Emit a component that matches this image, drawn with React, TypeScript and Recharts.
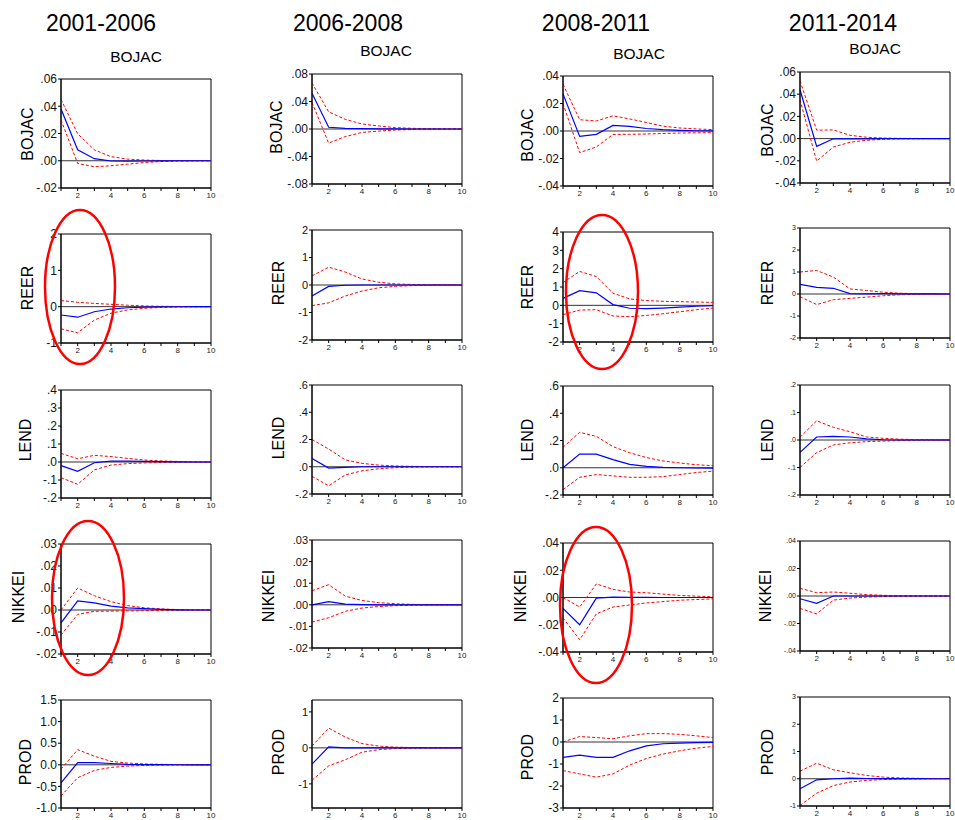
import React from 'react';
import { LineChart, Line, XAxis, YAxis, ReferenceLine, ReferenceArea } from 'recharts';

const periods = [1, 2, 3, 4, 5, 6, 7, 8, 9, 10];
const periodTicks = [1, 2, 3, 4, 5, 6, 7, 8, 9, 10];
const columnTitles = ['2001-2006', '2006-2008', '2008-2011', '2011-2014'];
const variables = ['BOJAC', 'REER', 'LEND', 'NIKKEI', 'PROD'];

// BOJAC responses
const bojacMid0106 = [0.038, 0.008, 0.0015, -0.0002, -0.0003, -0.0002, -0.0001, 0, 0, 0];
const bojacHi0106 = [0.045, 0.0198, 0.008, 0.003, 0.0012, 0.0005, 0.0002, 0.0001, 0, 0];
const bojacLo0106 = [0.03, -0.002, -0.0044, -0.0037, -0.0025, -0.0013, -0.0006, -0.0003, -0.0001, 0];
const bojacMid0608 = [0.052, 0.0025, 0.001, 0.0005, 0.0002, 0.0001, 0, 0, 0, 0];
const bojacHi0608 = [0.067, 0.025, 0.014, 0.0073, 0.0044, 0.002, 0.001, 0.0005, 0.0003, 0.0001];
const bojacLo0608 = [0.0385, -0.0205, -0.011, -0.005, -0.003, -0.0015, -0.0008, -0.0004, -0.0002, -0.0001];
const bojacMid0811 = [0.027, -0.0039, -0.0024, 0.0041, 0.0033, 0.0018, 0.001, 0.0005, 0.0002, 0.0001];
const bojacHi0811 = [0.034, 0.0082, 0.0073, 0.011, 0.0088, 0.0062, 0.0035, 0.0022, 0.0015, 0.001];
const bojacLo0811 = [0.02, -0.0157, -0.0116, -0.0025, -0.0024, -0.0022, -0.0018, -0.0015, -0.0013, -0.0012];
const bojacMid1114 = [0.044, -0.007, -0.0002, -0.0003, -0.0002, -0.0001, 0, 0, 0, 0];
const bojacHi1114 = [0.052, 0.0076, 0.0078, 0.003, 0.0012, 0.0005, 0.0002, 0.0001, 0, 0];
const bojacLo1114 = [0.035, -0.0203, -0.0076, -0.0033, -0.0015, -0.0006, -0.0002, -0.0001, 0, 0];

// REER responses
const reerMid0106 = [-0.23, -0.29, -0.14, -0.065, -0.03, -0.012, -0.005, -0.002, -0.001, 0];
const reerHi0106 = [0.17, 0.12, 0.09, 0.065, 0.04, 0.02, 0.01, 0.005, 0.002, 0.001];
const reerLo0106 = [-0.61, -0.72, -0.37, -0.18, -0.09, -0.045, -0.02, -0.01, -0.005, -0.002];
const reerMid0608 = [-0.4, -0.05, -0.01, 0, 0, 0, 0, 0, 0, 0];
const reerHi0608 = [0.33, 0.65, 0.47, 0.22, 0.1, 0.04, 0.02, 0.01, 0.005, 0.002];
const reerLo0608 = [-0.75, -0.65, -0.4, -0.22, -0.1, -0.05, -0.02, -0.01, -0.005, -0.002];
const reerMid0811 = [0.38, 0.8, 0.68, 0.04, -0.16, -0.18, -0.15, -0.1, -0.05, -0.02];
const reerHi0811 = [1.24, 1.85, 1.57, 0.66, 0.35, 0.26, 0.22, 0.2, 0.18, 0.16];
const reerLo0811 = [-0.51, -0.26, -0.24, -0.58, -0.62, -0.55, -0.46, -0.35, -0.24, -0.15];
const reerMid1114 = [0.44, 0.3, 0.26, 0.02, 0.01, 0.015, 0.01, 0.005, 0.002, 0.001];
const reerHi1114 = [1.0, 1.07, 0.77, 0.23, 0.16, 0.08, 0.035, 0.015, 0.007, 0.003];
const reerLo1114 = [-0.12, -0.48, -0.26, -0.2, -0.14, -0.08, -0.035, -0.015, -0.007, -0.003];

// LEND responses
const lendMid0106 = [-0.02, -0.052, -0.004, 0.005, 0.005, 0.004, 0.002, 0.001, 0, 0];
const lendHi0106 = [0.048, 0.018, 0.037, 0.03, 0.02, 0.011, 0.006, 0.003, 0.001, 0];
const lendLo0106 = [-0.087, -0.124, -0.044, -0.017, -0.009, -0.005, -0.003, -0.001, 0, 0];
const lendMid0608 = [0.06, -0.01, -0.005, 0, 0, 0, 0, 0, 0, 0];
const lendHi0608 = [0.2, 0.13, 0.05, 0.025, 0.012, 0.006, 0.003, 0.001, 0, 0];
const lendLo0608 = [-0.07, -0.14, -0.06, -0.03, -0.015, -0.007, -0.003, -0.001, 0, 0];
const lendMid0811 = [0.0, 0.1, 0.1, 0.06, 0.025, 0.01, 0.003, 0, -0.002, -0.003];
const lendHi0811 = [0.15, 0.26, 0.23, 0.155, 0.11, 0.075, 0.05, 0.035, 0.022, 0.015];
const lendLo0811 = [-0.16, -0.07, -0.05, -0.06, -0.07, -0.07, -0.065, -0.05, -0.035, -0.025];
const lendMid1114 = [-0.045, 0.011, 0.013, 0.011, 0.004, 0.001, 0, 0, 0, 0];
const lendHi1114 = [0.01, 0.07, 0.046, 0.03, 0.011, 0.006, 0.003, 0.0015, 0.0005, 0];
const lendLo1114 = [-0.1, -0.046, -0.018, -0.01, -0.006, -0.004, -0.002, -0.001, -0.0005, 0];

// NIKKEI responses
const nikkeiMid0106 = [-0.0059, 0.0041, 0.0032, 0.0018, 0.001, 0.0006, 0.0003, 0.0001, 0, 0];
const nikkeiHi0106 = [0.0, 0.01, 0.0065, 0.0038, 0.002, 0.001, 0.0005, 0.0002, 0.0001, 0];
const nikkeiLo0106 = [-0.0114, -0.002, -0.0006, -0.0005, -0.0004, -0.0003, -0.0002, -0.0001, 0, 0];
const nikkeiMid0608 = [0.0, 0.0015, 0.0003, 0.0001, 0, 0, 0, 0, 0, 0];
const nikkeiHi0608 = [0.0065, 0.0093, 0.004, 0.002, 0.001, 0.0005, 0.0002, 0.0001, 0, 0];
const nikkeiLo0608 = [-0.008, -0.006, -0.003, -0.0015, -0.0008, -0.0004, -0.0002, -0.0001, 0, 0];
const nikkeiMid0811 = [-0.008, -0.02, -0.0005, 0.0003, 0.0002, 0.0001, 0, 0, 0, 0];
const nikkeiHi0811 = [0.0, -0.007, 0.01, 0.006, 0.004, 0.0035, 0.0025, 0.0015, 0.001, 0.0005];
const nikkeiLo0811 = [-0.015, -0.031, -0.012, -0.007, -0.0055, -0.004, -0.003, -0.002, -0.0015, -0.001];
const nikkeiMid1114 = [-0.002, -0.0053, 0, 0, 0, 0, 0, 0, 0, 0];
const nikkeiHi1114 = [0.0056, 0.0024, 0.0029, 0.002, 0.001, 0.0005, 0.0002, 0.0001, 0, 0];
const nikkeiLo1114 = [-0.009, -0.013, -0.003, -0.0015, -0.0008, -0.0004, -0.0002, -0.0001, 0, 0];

// PROD responses
const prodMid0106 = [-0.42, 0.05, 0.05, 0.03, 0.01, 0.005, 0.002, 0.001, 0, 0];
const prodHi0106 = [-0.1, 0.35, 0.2, 0.08, 0.04, 0.02, 0.01, 0.005, 0.002, 0];
const prodLo0106 = [-0.72, -0.3, -0.13, -0.06, -0.03, -0.015, -0.007, -0.003, -0.001, 0];
const prodMid0608 = [-0.45, 0.03, 0.0, 0.0, 0, 0, 0, 0, 0, 0];
const prodHi0608 = [0.05, 0.55, 0.3, 0.12, 0.05, 0.02, 0.01, 0.005, 0.002, 0];
const prodLo0608 = [-0.9, -0.5, -0.33, -0.12, -0.05, -0.02, -0.01, -0.005, -0.002, 0];
const prodMid0811 = [-0.7, -0.6, -0.7, -0.7, -0.4, -0.18, -0.08, -0.05, -0.03, -0.02];
const prodHi0811 = [0.0, 0.25, 0.2, 0.15, 0.28, 0.38, 0.38, 0.35, 0.28, 0.2];
const prodLo0811 = [-1.3, -1.45, -1.6, -1.45, -1.05, -0.75, -0.55, -0.4, -0.28, -0.2];
const prodMid1114 = [-0.37, -0.04, 0.0, 0.02, 0.01, 0.005, 0.002, 0.001, 0, 0];
const prodHi1114 = [0.28, 0.57, 0.33, 0.22, 0.12, 0.06, 0.03, 0.015, 0.007, 0.003];
const prodLo1114 = [-0.98, -0.53, -0.25, -0.12, -0.06, -0.03, -0.015, -0.007, -0.003, -0.001];

// y tick values
const ticksBojac0106 = [-0.02, 0, 0.02, 0.04, 0.06];
const ticksBojac0608 = [-0.08, -0.04, 0, 0.04, 0.08];
const ticksBojac0811 = [-0.04, -0.02, 0, 0.02, 0.04];
const ticksBojac1114 = [-0.04, -0.02, 0, 0.02, 0.04, 0.06];
const ticksReer0106 = [-1, 0, 1, 2];
const ticksReer0608 = [-2, -1, 0, 1, 2];
const ticksReer0811 = [-2, -1, 0, 1, 2, 3, 4];
const ticksReer1114 = [-2, -1, 0, 1, 2, 3];
const ticksLend0106 = [-0.2, -0.1, 0, 0.1, 0.2, 0.3, 0.4];
const ticksLend0608 = [-0.2, 0, 0.2, 0.4, 0.6];
const ticksLend0811 = [-0.2, 0, 0.2, 0.4, 0.6];
const ticksLend1114 = [-0.2, -0.1, 0, 0.1, 0.2];
const ticksNikkei0106 = [-0.02, -0.01, 0, 0.01, 0.02, 0.03];
const ticksNikkei0608 = [-0.02, -0.01, 0, 0.01, 0.02, 0.03];
const ticksNikkei0811 = [-0.04, -0.02, 0, 0.02, 0.04];
const ticksNikkei1114 = [-0.04, -0.02, 0, 0.02, 0.04];
const ticksProd0106 = [-1, -0.5, 0, 0.5, 1, 1.5];
const ticksProd0608 = [-1, 0, 1];
const ticksProd0811 = [-3, -2, -1, 0, 1, 2];
const ticksProd1114 = [-1, 0, 1, 2, 3];

type Fmt = 'dot2' | 'dot1' | 'fix1' | 'int';

type PanelCfg = {
  row: number;
  col: number;
  mid: number[];
  hi: number[];
  lo: number[];
  ticks: number[];
  domain?: [number, number];
  fmt: Fmt;
  tickFont: number;
};

const panels: PanelCfg[] = [
  { row: 0, col: 0, mid: bojacMid0106, hi: bojacHi0106, lo: bojacLo0106, ticks: ticksBojac0106, fmt: 'dot2', tickFont: 12 },
  { row: 0, col: 1, mid: bojacMid0608, hi: bojacHi0608, lo: bojacLo0608, ticks: ticksBojac0608, fmt: 'dot2', tickFont: 12 },
  { row: 0, col: 2, mid: bojacMid0811, hi: bojacHi0811, lo: bojacLo0811, ticks: ticksBojac0811, fmt: 'dot2', tickFont: 12 },
  { row: 0, col: 3, mid: bojacMid1114, hi: bojacHi1114, lo: bojacLo1114, ticks: ticksBojac1114, fmt: 'dot2', tickFont: 12 },
  { row: 1, col: 0, mid: reerMid0106, hi: reerHi0106, lo: reerLo0106, ticks: ticksReer0106, fmt: 'int', tickFont: 12 },
  { row: 1, col: 1, mid: reerMid0608, hi: reerHi0608, lo: reerLo0608, ticks: ticksReer0608, fmt: 'int', tickFont: 11 },
  { row: 1, col: 2, mid: reerMid0811, hi: reerHi0811, lo: reerLo0811, ticks: ticksReer0811, fmt: 'int', tickFont: 12 },
  { row: 1, col: 3, mid: reerMid1114, hi: reerHi1114, lo: reerLo1114, ticks: ticksReer1114, fmt: 'int', tickFont: 7 },
  { row: 2, col: 0, mid: lendMid0106, hi: lendHi0106, lo: lendLo0106, ticks: ticksLend0106, fmt: 'dot1', tickFont: 12 },
  { row: 2, col: 1, mid: lendMid0608, hi: lendHi0608, lo: lendLo0608, ticks: ticksLend0608, fmt: 'dot1', tickFont: 11 },
  { row: 2, col: 2, mid: lendMid0811, hi: lendHi0811, lo: lendLo0811, ticks: ticksLend0811, fmt: 'dot1', tickFont: 12 },
  { row: 2, col: 3, mid: lendMid1114, hi: lendHi1114, lo: lendLo1114, ticks: ticksLend1114, fmt: 'dot1', tickFont: 7 },
  { row: 3, col: 0, mid: nikkeiMid0106, hi: nikkeiHi0106, lo: nikkeiLo0106, ticks: ticksNikkei0106, fmt: 'dot2', tickFont: 12 },
  { row: 3, col: 1, mid: nikkeiMid0608, hi: nikkeiHi0608, lo: nikkeiLo0608, ticks: ticksNikkei0608, fmt: 'dot2', tickFont: 11 },
  { row: 3, col: 2, mid: nikkeiMid0811, hi: nikkeiHi0811, lo: nikkeiLo0811, ticks: ticksNikkei0811, fmt: 'dot2', tickFont: 12 },
  { row: 3, col: 3, mid: nikkeiMid1114, hi: nikkeiHi1114, lo: nikkeiLo1114, ticks: ticksNikkei1114, fmt: 'dot2', tickFont: 7 },
  { row: 4, col: 0, mid: prodMid0106, hi: prodHi0106, lo: prodLo0106, ticks: ticksProd0106, fmt: 'fix1', tickFont: 12 },
  { row: 4, col: 1, mid: prodMid0608, hi: prodHi0608, lo: prodLo0608, ticks: ticksProd0608, domain: [-1.67, 1.33], fmt: 'int', tickFont: 11 },
  { row: 4, col: 2, mid: prodMid0811, hi: prodHi0811, lo: prodLo0811, ticks: ticksProd0811, fmt: 'int', tickFont: 12 },
  { row: 4, col: 3, mid: prodMid1114, hi: prodHi1114, lo: prodLo1114, ticks: ticksProd1114, fmt: 'int', tickFont: 7 },
];

// plot-area placement in page pixels
const colLeft = [61, 312, 563, 800];
const plotW = 150;
const rowTop = [
  [79, 74, 76, 72],
  [234, 230, 232, 228],
  [390, 385, 386, 385],
  [544, 540, 543, 541],
  [700, 700, 698, 697],
];
const rowH = [
  [109, 110, 110, 111],
  [109, 110, 110, 110],
  [108, 109, 109, 110],
  [110, 108, 109, 110],
  [108, 108, 110, 109],
];
const yAxisW = 40;
const padTop = 6;
const xAxisH = 16;

const fmtTick = (v: number, f: Fmt) => {
  if (f === 'int') return String(v);
  if (f === 'fix1') return v.toFixed(1);
  const d = f === 'dot2' ? 2 : 1;
  const s = Math.abs(v).toFixed(d).replace(/^0/, '');
  return (v < 0 ? '-' : '') + s;
};

const Panel: React.FC<{ cfg: PanelCfg }> = ({ cfg }) => {
  const top = rowTop[cfg.row][cfg.col];
  const h = rowH[cfg.row][cfg.col];
  const left = colLeft[cfg.col];
  const domain: [number, number] = cfg.domain ?? [cfg.ticks[0], cfg.ticks[cfg.ticks.length - 1]];
  const data = periods.map((p, i) => ({ p, mid: cfg.mid[i], hi: cfg.hi[i], lo: cfg.lo[i] }));

  return (
    <div style={{ position: 'absolute', left: left - yAxisW, top: top - padTop }}>
      <LineChart
        width={yAxisW + plotW + 8}
        height={padTop + h + xAxisH}
        data={data}
        margin={{ top: padTop, right: 8, left: 0, bottom: 0 }}
      >
        <XAxis
          dataKey="p"
          type="number"
          domain={[1, 10]}
          ticks={periodTicks}
          tickFormatter={(v: number) => (v % 2 === 0 ? String(v) : '')}
          interval={0}
          height={xAxisH}
          tickSize={3}
          tickMargin={1}
          tick={{ fontSize: 8, fill: '#222' }}
          stroke="#000"
        />
        <YAxis
          type="number"
          domain={domain}
          ticks={cfg.ticks}
          allowDataOverflow
          interval={0}
          width={yAxisW}
          tickSize={3}
          tickMargin={1}
          tickFormatter={(v: number) => fmtTick(v, cfg.fmt)}
          tick={{ fontSize: cfg.tickFont, fill: '#111' }}
          stroke="#000"
        />
        <ReferenceArea
          x1={1}
          x2={10}
          y1={domain[0]}
          y2={domain[1]}
          fill="none"
          fillOpacity={0}
          stroke="#000"
          strokeWidth={1}
          ifOverflow="visible"
        />
        <ReferenceLine y={0} stroke="#333" strokeWidth={1} />
        <Line dataKey="hi" type="linear" stroke="#ff0000" strokeWidth={1} strokeDasharray="3 2" dot={false} isAnimationActive={false} />
        <Line dataKey="lo" type="linear" stroke="#ff0000" strokeWidth={1} strokeDasharray="3 2" dot={false} isAnimationActive={false} />
        <Line dataKey="mid" type="linear" stroke="#0000ff" strokeWidth={1.2} dot={false} isAnimationActive={false} />
      </LineChart>
    </div>
  );
};

// text/annotation placement
const titleX = [101, 348, 596, 843];
const headX = [136, 386, 639, 875];
const headY = [62, 56, 59, 54];
const sideX = [
  [27, 27, 25, 18, 25],
  [276, 278, 278, 268, 278],
  [527, 527, 527, 520, 527],
  [767, 767, 767, 765, 767],
];
const sideY = [
  [134, 288, 440, 597, 762],
  [127, 283, 438, 596, 752],
  [135, 287, 440, 596, 757],
  [130, 283, 440, 596, 752],
];
const ellipses = [
  { cx: 80, cy: 287, rx: 35, ry: 77 },
  { cx: 602, cy: 292, rx: 36, ry: 77 },
  { cx: 88, cy: 598, rx: 36, ry: 77 },
  { cx: 596, cy: 605, rx: 36, ry: 78 },
];

export default function App() {
  return (
    <div
      style={{
        position: 'absolute',
        left: 0,
        top: 0,
        width: 955,
        height: 820,
        background: '#fff',
        overflow: 'hidden',
        fontFamily: '"Liberation Sans", Arial, sans-serif',
      }}
    >
      {panels.map((cfg) => (
        <Panel key={`${cfg.row}-${cfg.col}`} cfg={cfg} />
      ))}
      <svg width={955} height={820} style={{ position: 'absolute', left: 0, top: 0, pointerEvents: 'none' }}>
        {columnTitles.map((t, i) => (
          <text key={t} x={titleX[i]} y={31} fontSize={23} textAnchor="middle" fill="#000">
            {t}
          </text>
        ))}
        {headX.map((x, i) => (
          <text key={`h${i}`} x={x} y={headY[i]} fontSize={15.5} textAnchor="middle" fill="#000">
            BOJAC
          </text>
        ))}
        {sideX.map((xs, c) =>
          xs.map((x, r) => (
            <text
              key={`s${c}-${r}`}
              x={x}
              y={sideY[c][r]}
              fontSize={16}
              textAnchor="middle"
              dominantBaseline="central"
              transform={`rotate(-90 ${x} ${sideY[c][r]})`}
              fill="#000"
            >
              {variables[r]}
            </text>
          ))
        )}
        {ellipses.map((e, i) => (
          <ellipse key={`e${i}`} cx={e.cx} cy={e.cy} rx={e.rx} ry={e.ry} fill="none" stroke="#ff0000" strokeWidth={2.5} />
        ))}
      </svg>
    </div>
  );
}
